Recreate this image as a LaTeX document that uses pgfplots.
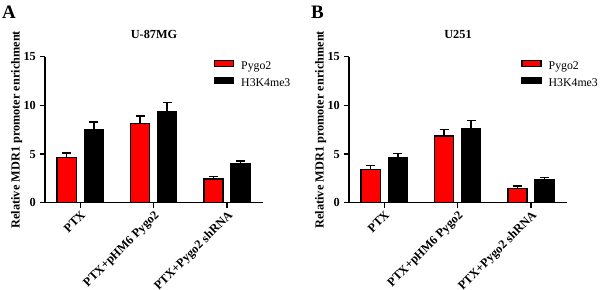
\documentclass[border=0pt]{standalone}
\usepackage{fontspec}
\setmainfont{Liberation Serif}
\usepackage{pgfplots}
\pgfplotsset{compat=1.18}
\definecolor{barred}{RGB}{255,0,0}
\pgfplotsset{
  panel/.style={
    scale only axis,
    width=218bp, height=146bp,
    anchor=south west,
    axis lines=left,
    axis line style={-, line width=1.3bp},
    ymin=0, ymax=15, ytick={0,5,10,15},
    xmin=-0.48, xmax=2.49,
    xtick={0,1,2},
    xticklabels={PTX, PTX+pHM6 Pygo2, PTX+Pygo2 shRNA},
    tick align=outside,
    major tick length=5bp,
    tick style={line width=1.3bp, black},
    /pgf/number format/assume math mode=true,
    tick label style={font=\bfseries\fontsize{12.3bp}{14bp}\selectfont},
    xticklabel style={rotate=45, anchor=north east, inner sep=1.5bp},
    yticklabel style={inner sep=4bp},
    ybar, bar width=0.26,
    legend cell align=left,
    legend style={draw=none, fill=none, inner sep=0pt, anchor=north west,
      font=\fontsize{11.8bp}{13bp}\selectfont,
      row sep=5bp,
      nodes={inner sep=0pt, text height=9bp, text depth=3bp}},
    legend image code/.code={\draw[##1, line width=1.3bp] (0bp,0bp) rectangle (19bp,6bp);
       \path (26bp,0bp);},
  },
  redbar/.style={bar shift=-0.185, draw=black, line width=1.3bp, fill=barred,
    error bars/.cd, y dir=plus, y explicit,
    error bar style={line width=1.5bp, black},
    error mark options={rotate=90, mark size=4.5bp, line width=1.5bp, black}},
  blackbar/.style={bar shift=0.185, draw=black, line width=1.3bp, fill=black,
    error bars/.cd, y dir=plus, y explicit,
    error bar style={line width=1.5bp, black},
    error mark options={rotate=90, mark size=4.5bp, line width=1.5bp, black}},
}
\begin{document}
\begin{tikzpicture}
\useasboundingbox (0,0) rectangle (600bp,-290bp);
% Panel A
\begin{axis}[panel, at={(45bp,-202.7bp)},
  legend style={at={(rel axis cs:0.774,0.982)}}]
\addplot+[redbar] coordinates {(0,4.63) +- (0,0.50) (1,8.16) +- (0,0.75) (2,2.44) +- (0,0.23)};
\addplot+[blackbar] coordinates {(0,7.54) +- (0,0.75) (1,9.35) +- (0,0.93) (2,3.98) +- (0,0.33)};
\legend{Pygo2, H3K4me3}
\end{axis}
% Panel B
\begin{axis}[panel, at={(349bp,-202.7bp)},
  legend style={at={(rel axis cs:0.79,0.982)}}]
\addplot+[redbar] coordinates {(0,3.43) +- (0,0.37) (1,6.86) +- (0,0.68) (2,1.48) +- (0,0.24)};
\addplot+[blackbar] coordinates {(0,4.63) +- (0,0.45) (1,7.65) +- (0,0.78) (2,2.33) +- (0,0.27)};
\legend{Pygo2, H3K4me3}
\end{axis}
% titles, labels, panel letters
\node[anchor=base, font=\bfseries\fontsize{12.3bp}{14bp}\selectfont] at (154bp,-38bp) {U-87MG};
\node[anchor=base, font=\bfseries\fontsize{12.3bp}{14bp}\selectfont] at (458bp,-38bp) {U251};
\node[rotate=90, anchor=base, font=\bfseries\fontsize{12.3bp}{14bp}\selectfont] at (19.5bp,-129.7bp) {Relative MDR1 promoter enrichment};
\node[rotate=90, anchor=base, font=\bfseries\fontsize{12.3bp}{14bp}\selectfont] at (323.5bp,-129.7bp) {Relative MDR1 promoter enrichment};
\node[anchor=base west, inner sep=0pt, font=\bfseries\fontsize{19bp}{21bp}\selectfont] at (2bp,-18bp) {A};
\node[anchor=base west, inner sep=0pt, font=\bfseries\fontsize{19bp}{21bp}\selectfont] at (311bp,-18bp) {B};
\end{tikzpicture}
\end{document}
